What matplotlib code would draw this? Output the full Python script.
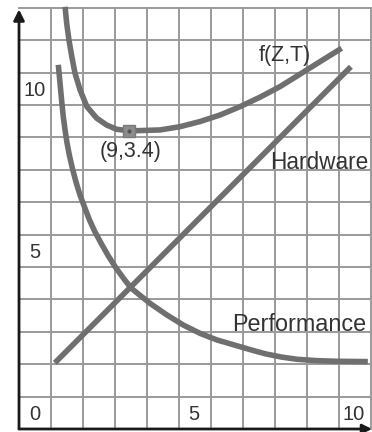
import numpy as np
import matplotlib
matplotlib.use("Agg")
import matplotlib.pyplot as plt

# curve samples (x, y) in grid units
perf_x = [1.228, 1.281, 1.331, 1.381, 1.438, 1.500, 1.578, 1.672, 1.781, 1.906,
          2.047, 2.203, 2.375, 2.578, 2.791, 3.031, 3.281, 3.500, 4.09, 4.62,
          5.13, 5.66, 6.18, 6.70, 7.22, 7.70, 8.20, 8.70, 9.30, 9.90, 10.90]
perf_y = [11.24, 10.68, 10.15, 9.66, 9.23, 8.83, 8.43, 8.03, 7.62, 7.22,
          6.85, 6.45, 6.08, 5.71, 5.34, 4.97, 4.63, 4.35, 3.88, 3.52,
          3.21, 2.95, 2.75, 2.60, 2.45, 2.32, 2.22, 2.15, 2.11, 2.09, 2.08]

hw_x = [1.12, 10.37]
hw_y = [2.04, 11.18]

f_x = [1.44, 1.49, 1.56, 1.65, 1.75, 1.91, 2.12, 2.43, 2.74, 3.05, 3.47, 3.78,
       4.41, 5.03, 5.66, 6.28, 6.91, 7.53, 8.16, 8.78, 9.41, 10.08]
f_y = [13.03, 12.52, 12.01, 11.49, 10.98, 10.46, 9.95, 9.59, 9.38, 9.25, 9.20, 9.21,
       9.23, 9.33, 9.49, 9.69, 9.95, 10.24, 10.57, 10.95, 11.34, 11.75]

min_pt = (3.45, 9.2)
min_label = "(9,3.4)"

tick_vals_x = [0, 5, 10]
tick_vals_y = [0, 5, 10]

curve_col = "#6f6f6f"
grid_col = "#9a9a9a"
text_col = "#333333"
font = "Liberation Sans"

fig = plt.figure(figsize=(3.72, 4.32), dpi=100)
ax = fig.add_axes([0, 0, 1, 1])
ax.set_xlim(-0.594, 11.03)
ax.set_ylim(-0.093, 13.24)
ax.axis("off")

# grid
for gx in range(1, 12):
    ax.plot([gx, gx], [0, 13], color=grid_col, lw=1.4, zorder=1)
for gy in range(1, 14):
    ax.plot([0, 11.2], [gy, gy], color=grid_col, lw=1.4, zorder=1)

# axes with arrows
ax.annotate("", xy=(0, 12.95), xytext=(0, 0),
            arrowprops=dict(arrowstyle="-|>", lw=2, color="#1a1a1a",
                            mutation_scale=16, shrinkA=0, shrinkB=0), zorder=3)
ax.annotate("", xy=(11.03, 0), xytext=(0, 0),
            arrowprops=dict(arrowstyle="-|>", lw=2, color="#1a1a1a",
                            mutation_scale=14, shrinkA=0, shrinkB=0), zorder=3)

# curves
for xs, ys in [(perf_x, perf_y), (hw_x, hw_y), (f_x, f_y)]:
    ax.plot(xs, ys, color=curve_col, lw=4, solid_capstyle="butt",
            solid_joinstyle="round", zorder=2)

# minimum marker
ax.plot(*min_pt, marker="s", ms=8, color="#8c8c8c", mec="#7a7a7a", zorder=4)
ax.plot(*min_pt, marker="o", ms=2, color="#555555", zorder=5)

# tick labels sit inside the cell next to each line
for v in tick_vals_y:
    ax.text(0.5, v + 0.45, str(v), ha="center", va="center", fontsize=14.5,
            color=text_col, family=font)
for v in tick_vals_x[1:]:
    ax.text(v + 0.45, 0.45, str(v), ha="center", va="center", fontsize=14.5,
            color=text_col, family=font)

# curve labels
ax.text(3.5, 8.55, min_label, ha="center", va="center", fontsize=15.5,
        color=text_col, family=font)
ax.text(8.3, 11.54, "f(Z,T)", ha="center", va="center", fontsize=15.5,
        color=text_col, family=font)
ax.text(9.38, 8.24, "Hardware", ha="center", va="center", fontsize=16.3,
        color=text_col, family=font)
ax.text(8.76, 3.24, "Performance", ha="center", va="center", fontsize=16.8,
        color=text_col, family=font)

fig.savefig("out.png", dpi=100)
